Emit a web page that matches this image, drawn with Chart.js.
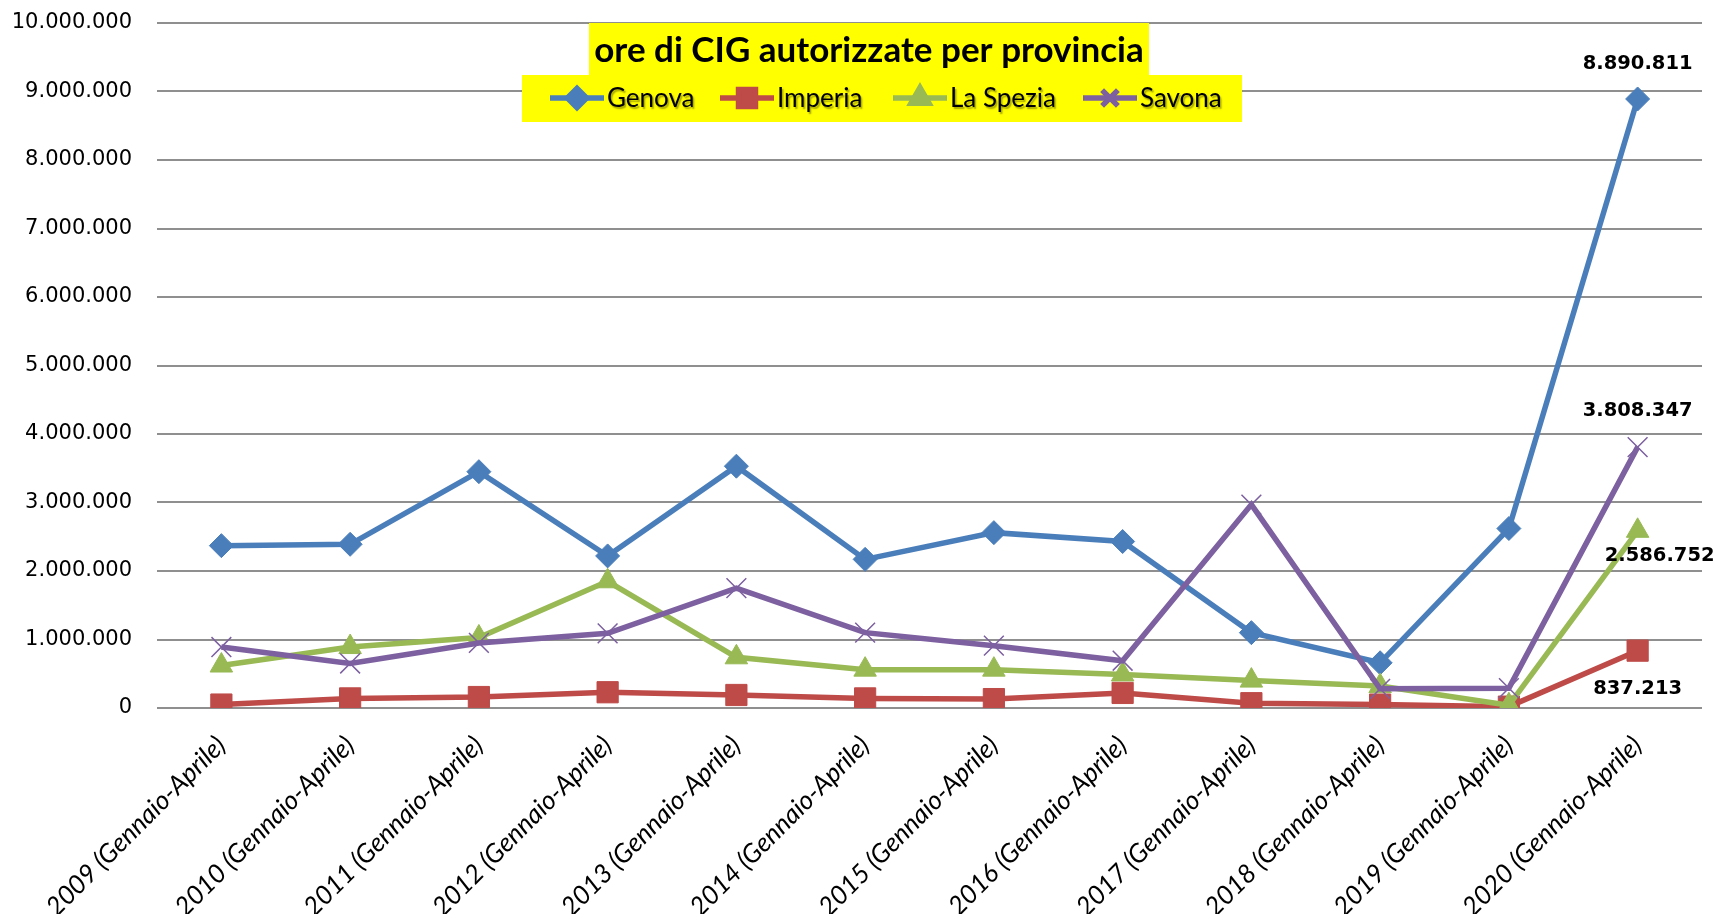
<!DOCTYPE html>
<html>
<head>
<meta charset="utf-8">
<script src="https://cdn.jsdelivr.net/npm/chart.js@4/dist/chart.umd.min.js"></script>
<style>
  html, body { margin: 0; padding: 0; background: #fff; }
  #wrap { width: 1727px; height: 914px; position: relative; }
</style>
</head>
<body>
<div id="wrap"><canvas id="cig"></canvas></div>
<script>
const titleText = 'ore di CIG autorizzate per provincia'
const years = ['2009','2010','2011','2012','2013','2014','2015','2016','2017','2018','2019','2020']
const labels = years.map(y => y + ' (Gennaio-Aprile)')

// ore autorizzate, gennaio-aprile
const genova   = [2370000, 2390000, 3450000, 2220000, 3530000, 2170000, 2560000, 2430000, 1100000, 660000, 2620000, 8890811]
const imperia  = [50000, 140000, 160000, 230000, 190000, 140000, 130000, 220000, 70000, 50000, 20000, 837213]
const laSpezia = [620000, 890000, 1030000, 1850000, 740000, 560000, 560000, 490000, 400000, 320000, 40000, 2586752]
const savona   = [890000, 650000, 950000, 1090000, 1750000, 1100000, 910000, 690000, 2970000, 280000, 290000, 3808347]

const yTicks = [0, 1000000, 10000000]  // min, step, max

function fmt(v) {
  return String(v).replace(/\B(?=(\d{3})+(?!\d))/g, '.')
}

const colors = { genova: '#4a7ebb', imperia: '#be4b48', spezia: '#98b954', savona: '#7d60a0' }

function ds(label, data, color, style, radius, order, extra) {
  return Object.assign({
    label, data,
    borderColor: color, backgroundColor: color,
    borderWidth: 5.5, tension: 0,
    pointStyle: style, pointRadius: radius, pointHoverRadius: radius,
    pointBackgroundColor: color, pointBorderColor: color, pointBorderWidth: 1,
    order
  }, extra || {})
}

const datasets = [
  ds('Genova', genova, colors.genova, 'rectRot', 12, 3),
  ds('Imperia', imperia, colors.imperia, 'rect', 15, 2),
  ds('La Spezia', laSpezia, colors.spezia, 'triangle', 13, 1),
  ds('Savona', savona, colors.savona, 'crossRot', 14, 0, { pointBorderWidth: 1.5 })
]

// offsets of the value labels on the last point (dx, dy)
const endLabelOffsets = [[0, -35], [0, 38], [22, 25], [0, -36]]

const headerPlugin = {
  id: 'header',
  beforeDatasetsDraw(chart) {
    const ctx = chart.ctx
    ctx.save()
    // title box
    ctx.fillStyle = '#ffff00'
    ctx.fillRect(589, 23, 560, 52)
    ctx.fillStyle = '#000'
    ctx.font = 'bold 35px Lato'
    ctx.textAlign = 'center'
    ctx.textBaseline = 'middle'
    ctx.fillText(titleText, 869, 51)
    // legend box
    ctx.fillStyle = '#ffff00'
    ctx.fillRect(522, 75, 720, 47)
    const starts = [550, 720, 893, 1083]
    chart.data.datasets.forEach((d, i) => {
      const x0 = starts[i], y = 98
      ctx.strokeStyle = d.borderColor
      ctx.lineWidth = 5.5
      ctx.beginPath(); ctx.moveTo(x0, y); ctx.lineTo(x0 + 54, y); ctx.stroke()
      ctx.fillStyle = d.borderColor
      Chart.helpers.drawPoint(ctx, {
        pointStyle: d.pointStyle, radius: d.pointRadius * 0.8,
        borderWidth: d.pointBorderWidth, rotation: 0
      }, x0 + 27, y)
      ctx.font = '26px Lato'
      ctx.textAlign = 'left'
      ctx.shadowColor = 'rgba(0,0,0,0.35)'
      ctx.shadowOffsetX = 1.5; ctx.shadowOffsetY = 1.5; ctx.shadowBlur = 1.5
      ctx.fillStyle = '#000'
      ctx.fillText(d.label, x0 + 57, y + 1)
      ctx.shadowColor = 'transparent'
    })
    ctx.restore()
  },
  afterDatasetsDraw(chart) {
    const ctx = chart.ctx
    ctx.save()
    ctx.font = 'bold 19.5px "DejaVu Sans"'
    ctx.fillStyle = '#000'
    ctx.textAlign = 'center'
    ctx.textBaseline = 'middle'
    chart.data.datasets.forEach((d, i) => {
      const meta = chart.getDatasetMeta(i)
      const last = meta.data[meta.data.length - 1]
      const [dx, dy] = endLabelOffsets[i]
      ctx.fillText(fmt(d.data[d.data.length - 1]), last.x + dx, last.y + dy)
    })
    ctx.restore()
  }
}

new Chart(document.getElementById('cig'), {
  type: 'line',
  data: { labels, datasets },
  plugins: [headerPlugin],
  options: {
    responsive: true,
    maintainAspectRatio: false,
    animation: false,
    layout: { padding: { top: 0, right: 25, left: 0, bottom: 0 } },
    plugins: { legend: { display: false }, title: { display: false }, tooltip: { enabled: false } },
    scales: {
      x: {
        offset: true,
        grid: { display: false },
        border: { display: false },
        afterFit(scale) { scale.height = 206 },
        ticks: {
          color: '#000',
          font: { family: 'Lato', style: 'italic', size: 26 },
          minRotation: 45, maxRotation: 45,
          padding: 14,
          autoSkip: false
        }
      },
      y: {
        min: yTicks[0], max: yTicks[2],
        afterFit(scale) {
          scale.width = 157
          scale.paddingTop = 23
          scale.paddingBottom = 12
        },
        border: { display: false },
        grid: { color: '#8f8f8f', lineWidth: 2, drawTicks: false },
        ticks: {
          stepSize: yTicks[1],
          color: '#000',
          padding: 25,
          font: { family: 'DejaVu Sans', size: 21 },
          callback: v => fmt(v)
        }
      }
    }
  }
})
</script>
</body>
</html>
